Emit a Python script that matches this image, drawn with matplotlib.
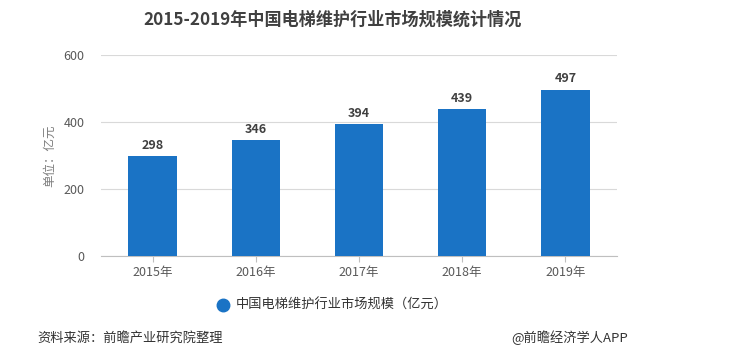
import matplotlib
matplotlib.use("Agg")
import matplotlib.pyplot as plt

plt.rcParams['font.family'] = ['Noto Sans CJK SC', 'DejaVu Sans']

years = ['2015年', '2016年', '2017年', '2018年', '2019年']
values = [298, 346, 394, 439, 497]
yticks = [0, 200, 400, 600]
title = '2015-2019年中国电梯维护行业市场规模统计情况'
series_name = '中国电梯维护行业市场规模（亿元）'
ylabel = '单位：亿元'
source = '资料来源：前瞻产业研究院整理'
credit = '@前瞻经济学人APP'

W, H = 749, 362
fig = plt.figure(figsize=(W/100, H/100), dpi=100)
ax = fig.add_axes([101/W, 1-256/H, 516/W, (256-55)/H])

bar_color = '#1a73c5'
x = range(len(years))
bars = ax.bar(x, values, width=0.47, color=bar_color, zorder=3)
for xi, v in zip(x, values):
    ax.text(xi, v + 12, str(v), ha='center', va='bottom', fontsize=9,
            fontweight='bold', color='#404040')

ax.set_xlim(-0.5, len(years) - 0.5)
ax.set_ylim(0, 600)
ax.set_yticks(yticks)
ax.set_xticks(list(x))
ax.set_xticklabels(years)
ax.tick_params(axis='y', length=0, labelsize=9, labelcolor='#595959', pad=12)
ax.tick_params(axis='x', length=4, color='#bfbfbf', labelsize=9, labelcolor='#595959')
ax.yaxis.grid(True, color='#d9d9d9', linewidth=0.8, zorder=0)
for s in ['top', 'right', 'left']:
    ax.spines[s].set_visible(False)
ax.spines['bottom'].set_color('#bfbfbf')
ax.set_ylabel(ylabel, color='#7f7f7f', fontsize=9, labelpad=5)

fig.text(333/W, 1-20/H, title, ha='center', va='center', fontsize=12.3,
         fontweight='bold', color='#404040')

fig.lines.append(plt.Line2D([223/W], [1-305/H], marker='o', markersize=9,
                            color=bar_color, transform=fig.transFigure))
fig.text(236/W, 1-305/H, series_name, ha='left', va='center', fontsize=9.5,
         color='#333333')

fig.text(37/W, 1-338/H, source, ha='left', va='center', fontsize=9.5, color='#333333')
fig.text(628/W, 1-338/H, credit, ha='right', va='center', fontsize=9.5, color='#333333')

fig.savefig('out.png', dpi=100, facecolor='white')
